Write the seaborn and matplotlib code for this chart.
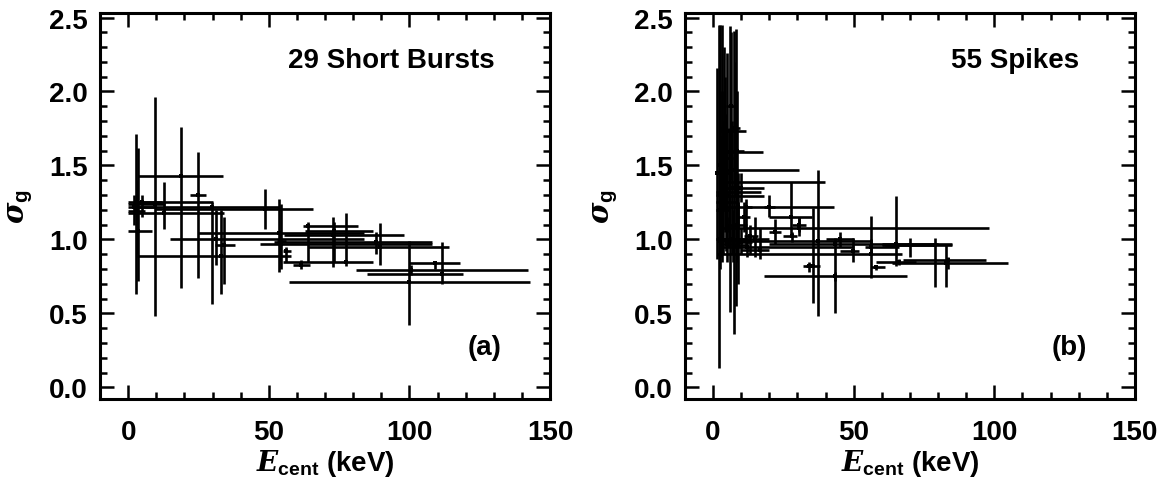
import numpy as np
import matplotlib
matplotlib.use("Agg")
import matplotlib.pyplot as plt
import seaborn as sns

# panel (a): 29 short bursts, centre and bar ends
sb_x    = [2.7, 3.5, 9.5, 12.8, 18.7, 24.8, 29.8, 31.3, 33.0, 48.5, 53.5, 54.5, 61.5, 64.0, 72.7,
           73.3, 77.4, 89.6, 99.9, 109.0, 111.7, 100.5, 88.0, 2.0, 3.0, 54.0, 56.0, 34.0, 5.0]
sb_y    = [1.19, 1.06, 1.24, 1.18, 1.43, 1.30, 1.22, 1.00, 0.885, 1.205, 1.04, 0.97, 0.83, 1.09, 1.03,
           1.06, 0.85, 0.95, 0.71, 0.84, 0.765, 0.79, 0.985, 1.22, 1.25, 0.99, 0.92, 0.96, 1.25]
sb_xlo  = [0, 0, 0, 0, 3.5, 21.9, 3.5, 14.8, 3.0, 9.5, 24.8, 46.7, 58.5, 62.0, 55.5,
           63.0, 55.0, 64.0, 57.0, 100.0, 85.0, 81.0, 52.0, 0, 0, 53.0, 55.0, 31.0, 2.0]
sb_xhi  = [6.0, 8.3, 13.0, 34.0, 33.7, 27.8, 53.8, 84.0, 58.0, 65.6, 84.0, 108.0, 64.5, 81.6, 98.0,
           87.0, 87.0, 114.0, 143.0, 118.0, 119.0, 142.0, 108.0, 10.0, 12.0, 56.0, 58.0, 38.0, 30.0]
sb_ylo  = [0.63, 0.72, 0.48, 1.07, 0.67, 0.74, 0.56, 0.83, 0.63, 1.07, 0.78, 0.80, 0.80, 0.85, 0.81,
           0.85, 0.82, 0.83, 0.42, 0.80, 0.70, 0.76, 0.90, 1.10, 0.90, 0.85, 0.85, 0.70, 1.15]
sb_yhi  = [1.71, 1.62, 1.96, 1.39, 1.76, 1.59, 1.25, 1.20, 1.20, 1.34, 1.27, 1.24, 0.86, 1.12, 1.15,
           1.12, 1.18, 1.11, 0.99, 0.85, 0.98, 0.83, 1.05, 1.30, 1.40, 1.05, 0.95, 1.15, 1.30]

# panel (b): 55 spikes
sp_x    = [1.4, 2.0, 2.6, 3.2, 5.0, 6.0, 7.4, 8.0, 4.5, 5.5, 3.5, 2.5, 3.0, 4.2, 6.8,
           8.5, 7.0, 9.0, 11.6, 30.7, 15.0, 16.6, 22.0, 27.7, 35.5, 37.3, 43.5, 49.6, 56.0, 65.0,
           70.0, 79.0, 83.0, 83.5, 58.0, 34.0, 43.5, 30.7, 28.0, 12.0, 10.0, 13.0, 5.0, 2.5, 8.5,
           9.0, 6.2, 3.8, 7.8, 20.0, 56.0, 66.0, 45.0, 10.0, 11.0]
sp_y    = [1.45, 1.30, 1.50, 1.60, 1.73, 1.59, 1.47, 1.39, 1.32, 1.29, 1.25, 1.20, 1.45, 1.55, 1.35,
           1.10, 1.00, 1.22, 1.22, 1.08, 1.00, 0.93, 1.05, 1.15, 0.82, 0.99, 0.97, 0.92, 0.90, 0.97,
           0.96, 0.96, 0.84, 0.86, 0.81, 0.82, 0.755, 1.10, 1.02, 0.95, 0.98, 1.02, 0.97, 1.00, 1.60,
           0.96, 1.90, 1.75, 1.75, 1.22, 0.95, 0.85, 1.00, 1.35, 1.15]
sp_xlo  = [0.5, 1.0, 1.5, 2.0, 2.0, 2.0, 2.0, 2.0, 1.0, 2.0, 1.0, 1.0, 1.5, 2.0, 3.0,
           5.0, 2.0, 5.0, 11.6, 2.0, 2.0, 10.0, 20.0, 20.0, 33.0, 1.4, 20.0, 45.0, 1.4, 60.0,
           60.0, 61.0, 63.6, 67.7, 56.0, 32.0, 18.0, 28.0, 25.0, 2.0, 8.0, 11.0, 2.0, 1.0, 6.0,
           7.0, 4.5, 2.5, 6.0, 18.0, 54.0, 58.0, 40.0, 8.0, 9.0]
sp_xhi  = [3.0, 3.0, 4.0, 5.0, 11.6, 17.6, 30.7, 39.7, 17.0, 18.0, 8.0, 6.0, 5.5, 7.0, 10.0,
           12.0, 13.0, 14.0, 43.0, 98.0, 20.0, 20.0, 24.0, 35.0, 38.0, 56.0, 85.0, 52.0, 67.0, 80.0,
           79.0, 85.0, 105.0, 97.0, 61.0, 36.0, 69.0, 33.0, 30.0, 50.0, 14.0, 16.0, 9.0, 5.0, 11.0,
           12.0, 8.0, 5.0, 9.5, 22.0, 66.0, 72.0, 50.0, 18.0, 13.0]
sp_ylo  = [0.87, 0.13, 0.95, 0.85, 1.05, 0.51, 0.36, 0.55, 0.92, 0.95, 0.90, 0.88, 1.00, 1.05, 0.90,
           0.85, 0.85, 0.95, 0.96, 1.02, 0.88, 0.87, 0.97, 1.02, 0.57, 0.48, 0.50, 0.85, 0.74, 0.82,
           0.88, 0.68, 0.68, 0.80, 0.79, 0.78, 0.72, 1.05, 0.98, 0.88, 0.90, 0.90, 0.85, 0.80, 1.20,
           0.70, 1.40, 1.20, 1.30, 1.15, 0.90, 0.83, 0.95, 1.25, 1.05]
sp_yhi  = [2.16, 2.45, 2.45, 2.45, 2.26, 2.44, 2.41, 2.42, 1.85, 1.75, 1.80, 1.70, 2.00, 2.10, 1.80,
           1.35, 1.20, 1.45, 1.27, 1.15, 1.15, 1.08, 1.14, 1.39, 1.21, 1.47, 1.01, 1.01, 1.16, 1.29,
           1.01, 1.01, 0.96, 0.88, 0.83, 0.85, 0.78, 1.15, 1.05, 1.00, 1.08, 1.10, 1.15, 1.30, 2.00,
           1.25, 2.40, 2.30, 2.20, 1.30, 1.00, 0.87, 1.05, 1.45, 1.25]

panels = [
    (sb_x, sb_y, sb_xlo, sb_xhi, sb_ylo, sb_yhi, "29 Short Bursts", "(a)"),
    (sp_x, sp_y, sp_xlo, sp_xhi, sp_ylo, sp_yhi, "55 Spikes", "(b)"),
]

sns.set_style("ticks")
plt.rcParams["font.family"] = ["Liberation Sans", "DejaVu Sans"]
plt.rcParams["font.weight"] = "bold"
plt.rcParams["axes.labelweight"] = "bold"
plt.rcParams["text.color"] = "black"
plt.rcParams["axes.labelcolor"] = "black"
plt.rcParams["xtick.color"] = "black"
plt.rcParams["ytick.color"] = "black"
plt.rcParams["mathtext.fontset"] = "custom"
plt.rcParams["mathtext.it"] = "DejaVu Serif:italic:bold"
plt.rcParams["mathtext.rm"] = "Liberation Sans:bold"
plt.rcParams["mathtext.bf"] = "Liberation Sans:bold"

fig, axes = plt.subplots(1, 2, figsize=(11.64, 4.85), dpi=100)
fig.subplots_adjust(left=0.086, right=0.975, bottom=0.175, top=0.971, wspace=0.30)

for ax, (x, y, xlo, xhi, ylo, yhi, title, tag) in zip(axes, panels):
    x = np.array(x); y = np.array(y)
    xerr = [x - np.array(xlo), np.array(xhi) - x]
    yerr = [y - np.array(ylo), np.array(yhi) - y]
    ax.errorbar(x, y, xerr=xerr, yerr=yerr, fmt="none", ecolor="black",
                elinewidth=1.9, capsize=0)
    sns.scatterplot(x=x, y=y, ax=ax, color="black", s=6, marker="s", linewidth=0)

    ax.set_xlim(-10, 150)
    ax.set_ylim(-0.08, 2.53)
    ax.set_xticks([0, 50, 100, 150])
    ax.set_xticks(np.arange(-10, 151, 10), minor=True)
    ax.set_yticks([0.0, 0.5, 1.0, 1.5, 2.0, 2.5])
    ax.set_yticks(np.arange(0, 2.51, 0.1), minor=True)
    ax.set_yticklabels(["0.0", "0.5", "1.0", "1.5", "2.0", "2.5"])
    ax.tick_params(which="both", direction="in", top=True, right=True, width=1.8,
                   labelsize=20)
    ax.tick_params(which="major", length=10, pad=9)
    ax.tick_params(axis="x", which="major", pad=14)
    ax.tick_params(which="minor", length=5)
    for s in ax.spines.values():
        s.set_linewidth(2.2)
        s.set_color("black")

    ax.set_xlabel(r"$E_{\mathrm{cent}}$ (keV)", fontsize=20, labelpad=2)
    ax.set_ylabel(r"$\sigma_{\mathrm{g}}$", fontsize=21, labelpad=10)
    ax.text(0.876, 0.878, title, transform=ax.transAxes, ha="right", va="center",
            fontsize=20, fontweight="bold")
    ax.text(0.855, 0.135, tag, transform=ax.transAxes, ha="center", va="center",
            fontsize=20, fontweight="bold")

plt.savefig("out.png", dpi=100)
